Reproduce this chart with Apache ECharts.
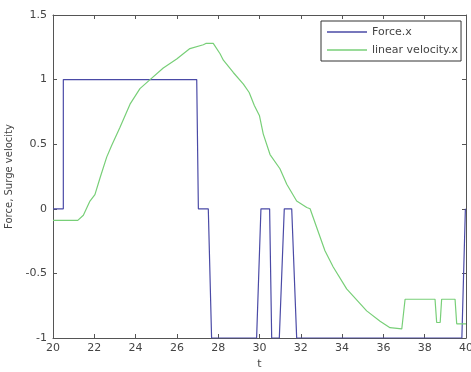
<!DOCTYPE html>
<html>
<head>
<meta charset="utf-8">
<script src="https://cdn.jsdelivr.net/npm/echarts@6/dist/echarts.min.js"></script>
<style>
  html, body { margin: 0; padding: 0; background: #fff; }
  #chart { width: 471px; height: 372px; }
</style>
</head>
<body>
<div id="chart"></div>
<script>
// Force.x (step-like signal)
const forceT = [20, 20.5, 20.5, 26.96, 27.04, 27.52, 27.68, 29.86, 30.07, 30.49, 30.59, 30.96, 31.2, 31.56, 31.8, 39.8, 39.97, 40]
const forceV = [0, 0, 1, 1, 0, 0, -1, -1, 0, 0, -1, -1, 0, 0, -1, -1, 0, 0]

// linear velocity.x
const velT = [20, 21.2, 21.47, 21.79, 22.03, 22.28, 22.6, 22.84, 23.24, 23.73, 24.21, 24.7, 25.34, 25.99, 26.63, 27.28, 27.4, 27.76, 28.09, 28.25, 28.73, 29.22, 29.5, 29.75, 30.0, 30.18, 30.51, 30.99, 31.32, 31.8, 32.29, 32.45, 32.77, 33.17, 33.57, 34.22, 35.19, 35.84, 36.32, 36.89, 37.05, 38.5, 38.58, 38.75, 38.82, 39.47, 39.55, 40]
const velV = [-0.09, -0.09, -0.05, 0.06, 0.11, 0.24, 0.40, 0.49, 0.63, 0.81, 0.93, 1.00, 1.09, 1.16, 1.24, 1.27, 1.28, 1.28, 1.20, 1.15, 1.055, 0.965, 0.90, 0.80, 0.72, 0.58, 0.42, 0.31, 0.19, 0.06, 0.01, 0.0, -0.145, -0.325, -0.45, -0.62, -0.79, -0.87, -0.92, -0.93, -0.70, -0.70, -0.88, -0.88, -0.70, -0.70, -0.89, -0.89]

const xTicks = [20, 22, 24, 26, 28, 30, 32, 34, 36, 38, 40]
const yTicks = [-1, -0.5, 0, 0.5, 1, 1.5]

const font = 'DejaVu Sans, sans-serif'
const axisCol = '#555'
const textCol = '#444'

const zip = (a, b) => a.map((v, i) => [v, b[i]])

const chart = echarts.init(document.getElementById('chart'), null, { renderer: 'canvas' })

const baseX = {
  type: 'value',
  min: xTicks[0],
  max: xTicks[xTicks.length - 1],
  interval: 2,
  axisLine: { show: true, onZero: false, lineStyle: { color: axisCol, width: 1 } },
  axisTick: { show: true, inside: true, length: 4, lineStyle: { color: axisCol } },
  splitLine: { show: false },
}
const baseY = {
  type: 'value',
  min: yTicks[0],
  max: yTicks[yTicks.length - 1],
  interval: 0.5,
  axisLine: { show: true, onZero: false, lineStyle: { color: axisCol, width: 1 } },
  axisTick: { show: true, inside: true, length: 4, lineStyle: { color: axisCol } },
  splitLine: { show: false },
}

chart.setOption({
  backgroundColor: '#fff',
  animation: false,
  grid: { left: 53, right: 5, top: 15, bottom: 34, outerBoundsMode: 'none' },
  xAxis: [
    {
      ...baseX,
      position: 'bottom',
      name: 't',
      nameLocation: 'middle',
      nameGap: 21,
      nameTextStyle: { color: textCol, fontSize: 11, fontFamily: font },
      axisLabel: { color: textCol, fontSize: 11, fontFamily: font, margin: 5 },
    },
    { ...baseX, position: 'top', axisLabel: { show: false } },
  ],
  yAxis: [
    {
      ...baseY,
      position: 'left',
      name: 'Force, Surge velocity',
      nameLocation: 'middle',
      nameGap: 33,
      nameRotate: 90,
      nameTextStyle: { color: textCol, fontSize: 10, fontFamily: font },
      axisLabel: { color: textCol, fontSize: 11, fontFamily: font, margin: 6, formatter: (v) => String(v) },
    },
    { ...baseY, position: 'right', axisLabel: { show: false } },
  ],
  legend: {
    left: 321,
    top: 21,
    orient: 'vertical',
    backgroundColor: '#fff',
    borderColor: '#333',
    borderWidth: 1,
    borderRadius: 0,
    padding: [4, 3, 4, 6],
    icon: 'rect',
    itemWidth: 40,
    itemHeight: 1.5,
    itemGap: 4,
    textStyle: { color: textCol, fontSize: 11, fontFamily: font, lineHeight: 14 },
    data: ['Force.x', 'linear velocity.x'],
  },
  series: [
    {
      name: 'Force.x',
      type: 'line',
      data: zip(forceT, forceV),
      symbol: 'none',
      lineStyle: { color: '#4a4aa6', width: 1.2 },
      itemStyle: { color: '#4a4aa6' },
    },
    {
      name: 'linear velocity.x',
      type: 'line',
      data: zip(velT, velV),
      symbol: 'none',
      lineStyle: { color: '#78cf78', width: 1.2 },
      itemStyle: { color: '#78cf78' },
    },
  ],
})
</script>
</body>
</html>
